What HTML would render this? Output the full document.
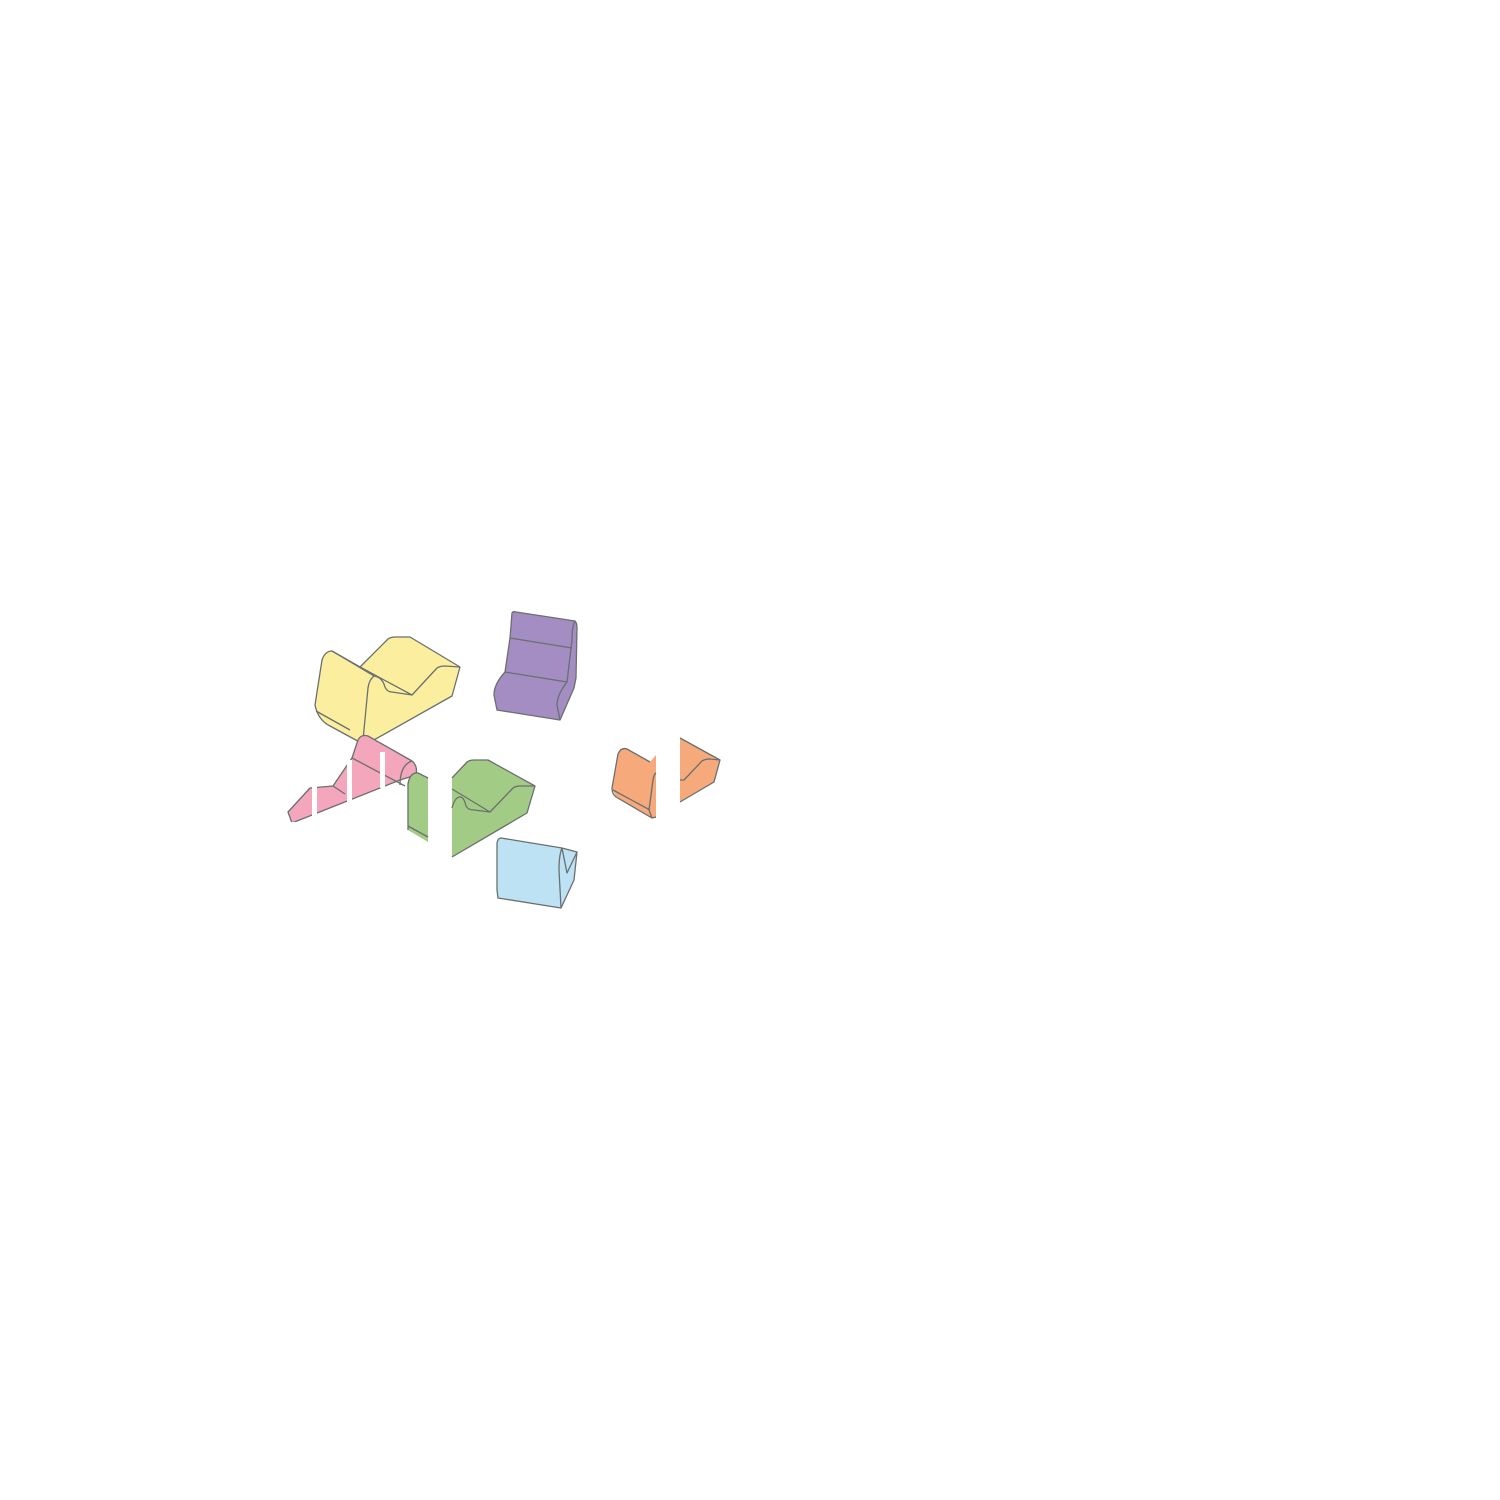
<!DOCTYPE html>
<html><head><meta charset="utf-8"><style>html,body{margin:0;padding:0;background:#fff}svg{display:block}</style></head>
<body>
<svg width="1500" height="1500" viewBox="0 0 1500 1500" xmlns="http://www.w3.org/2000/svg">
<g stroke="#6b6f6f" stroke-width="1.3" stroke-linejoin="round" fill="none">
<!-- yellow -->
<path d="M315,705 L322,660 Q325,651 332,651 L360,667 L388,639 Q391,637 395,637 L410,637 L460,667 L452,696 L365,745 L330,726 Q318,720 315,705 Z" fill="#fbef9f"/>
<path d="M360,667 L412,695 L437,668 Q440,666 445,666 L460,667"/>
<path d="M332,651 L374,676 Q381,677 384,684 Q386,692 392,692 L412,695"/>
<path d="M374,676 Q369,680 368,688 L363,740"/>
<path d="M316,711 L350,730"/>
<!-- purple -->
<path d="M512,613 Q513,611 516,612 L575,621 Q577,623 577,628 L576,678 L574,688 L560,720 L497,710 L494,695 Q494,684 505,672 L510,638 Z" fill="#a38dc3"/>
<path d="M510,638 L572,648 M505,672 L567,682 M575,621 Q572,626 572,640 L567,682 Q557,695 557,705 L560,720"/>
<!-- pink -->
<path d="M288,812 L310,788 L333,786 L352,758 L358,740 Q361,734 368,736 L412,761 Q418,766 416,775 L400,780 L292,823 Z" fill="#f4a6bd"/>
<path d="M352,758 L405,786 M333,786 L345,794 M400,785 Q400,765 412,761"/>
<rect x="312" y="780" width="5" height="50" fill="#fff" stroke="none"/>
<rect x="347" y="760" width="5" height="42" fill="#fff" stroke="none"/>
<rect x="380" y="752" width="5" height="36" fill="#fff" stroke="none"/>
<rect x="285" y="822" width="140" height="20" fill="#fff" stroke="none"/>
<!-- green -->
<path d="M408,830 L408,784 Q410,772 418,773 L428,778 L428,842 Z" fill="#a2cc85" stroke="none"/>
<path d="M408,830 L408,784 Q410,772 418,773 L428,778 M408,826 L428,837"/>
<path d="M452,778 L467,762 Q470,760 474,760 L488,760 L535,786 L527,813 L452,857 Z" fill="#a2cc85" stroke="none"/>
<path d="M452,778 L467,762 Q470,760 474,760 L488,760 L535,786 L527,813 L452,857"/>
<path d="M452,789 L490,812 L513,788 Q516,786 520,786 L535,786 M452,808 Q455,797 460,797 Q464,797 466,806 Q468,810 474,810 L490,812"/>
<!-- blue -->
<path d="M497,843 Q498,838 501,838 L562,848 L577,852 L574,880 L561,908 L498,898 L497,890 Z" fill="#bde2f4"/>
<path d="M562,848 Q559,855 559,870 L561,908 M562,848 L567,873 L577,852"/>
<!-- orange -->
<path d="M612,788 L618,754 Q621,747 627,749 L650,762 L656,755 L656,818 L652,818 L616,797 Z" fill="#f6aa7c" stroke="none"/>
<path d="M656,817 L652,818 L616,797 Q612,794 612,788 L618,754 Q621,747 627,749 L650,762 M656,773 Q654,774 653,780 L649,810 L652,818 M613,790 L650,810"/>
<path d="M680,738 L720,760 L714,782 L680,802 Z" fill="#f6aa7c" stroke="none"/>
<path d="M680,738 L720,760 L714,782 L680,802 M680,780 L684,780 L702,761 Q705,759 710,759 L720,760"/>
</g>
</svg>
</body></html>
